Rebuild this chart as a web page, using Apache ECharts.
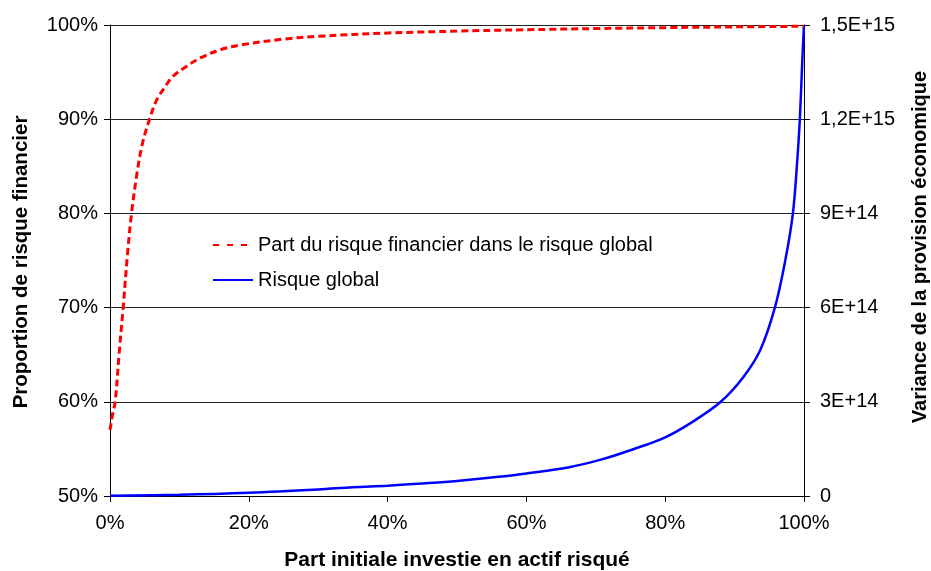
<!DOCTYPE html>
<html>
<head>
<meta charset="utf-8">
<script src="https://cdn.jsdelivr.net/npm/echarts@6/dist/echarts.min.js"></script>
<style>
html,body{margin:0;padding:0;background:#fff;}
#chart{width:931px;height:571px;}
</style>
</head>
<body>
<div id="chart"></div>
<script>
// X positions (part investie en actif risqué, %) and values
var redX = [0, 0.4, 0.75, 1.3, 1.9, 2.5, 3.1, 3.9, 4.7, 5.7, 6.7, 8, 9, 11, 13, 16, 19, 25, 30, 40, 50, 60, 70, 80, 90, 100];
var redY = [57.0, 58.8, 60.0, 65.0, 70.0, 75.5, 80.0, 84.3, 87.5, 90.0, 92.0, 93.5, 94.5, 95.6, 96.5, 97.4, 97.9, 98.5, 98.8, 99.15, 99.35, 99.5, 99.62, 99.72, 99.8, 99.87];

var blueX = [0, 10, 20, 30, 35, 40, 45, 50, 56, 60, 66, 70.6, 75.4, 80, 84, 88, 91.3, 93.7, 95.8, 97.3, 98.4, 99.0, 99.4, 99.8, 100];
var blueY = [1e12, 4e12, 1.05e13, 2.1e13, 2.8e13, 3.3e13, 4.0e13, 4.8e13, 6.1e13, 7.2e13, 9.1e13, 1.15e14, 1.49e14, 1.87e14, 2.37e14, 3.0e14, 3.8e14, 4.65e14, 6.0e14, 7.5e14, 9.0e14, 1.06e15, 1.2e15, 1.41e15, 1.5e15];

var rightTickValues = [0, 3e14, 6e14, 9e14, 1.2e15, 1.5e15];
var rightTickLabels = ['0', '3E+14', '6E+14', '9E+14', '1,2E+15', '1,5E+15'];

var seriesNames = ['Part du risque financier dans le risque global', 'Risque global'];
var xTitle = 'Part initiale investie en actif risqué';
var leftTitle = 'Proportion de risque financier';
var rightTitle = 'Variance de la provision économique';

function pairs(xs, ys) { return xs.map(function (x, i) { return [x, ys[i]]; }); }

var FONT = 'Liberation Sans, Arial, sans-serif';
var chart = echarts.init(document.getElementById('chart'), null, {renderer: 'canvas'});
chart.setOption({
  animation: false,
  backgroundColor: '#ffffff',
  textStyle: {fontFamily: FONT},
  grid: {left: 110, right: 127, top: 25, bottom: 75, containLabel: false, outerBoundsMode: 'none'},
  legend: {
    orient: 'vertical',
    left: 207,
    top: 230,
    itemWidth: 40,
    itemHeight: 14,
    itemGap: 15,
    itemStyle: {opacity: 0},
    textStyle: {fontFamily: FONT, fontSize: 20, color: '#000'},
    data: [
      {name: seriesNames[0], lineStyle: {type: [6, 8]}},
      {name: seriesNames[1]}
    ]
  },
  graphic: [
    {type: 'text', x: 457, y: 560, silent: true,
     style: {text: xTitle, font: 'bold 21px Liberation Sans, Arial, sans-serif', fill: '#000', align: 'center', verticalAlign: 'middle'}},
    {type: 'text', x: 21, y: 262, rotation: Math.PI / 2, silent: true,
     style: {text: leftTitle, font: 'bold 20.5px Liberation Sans, Arial, sans-serif', fill: '#000', align: 'center', verticalAlign: 'middle'}},
    {type: 'text', x: 920, y: 247, rotation: Math.PI / 2, silent: true,
     style: {text: rightTitle, font: 'bold 20px Liberation Sans, Arial, sans-serif', fill: '#000', align: 'center', verticalAlign: 'middle'}}
  ],
  xAxis: {
    type: 'value',
    min: 0, max: 100, interval: 20,
    axisLine: {show: true, onZero: false, lineStyle: {color: '#000', width: 1}},
    axisTick: {show: true, length: 6, lineStyle: {color: '#000'}},
    axisLabel: {fontFamily: FONT, fontSize: 20, color: '#000', margin: 17, formatter: function (v) { return v + '%'; }},
    splitLine: {show: false}
  },
  yAxis: [{
    type: 'value',
    min: 50, max: 100, interval: 10,
    axisLine: {show: true, lineStyle: {color: '#000', width: 1}},
    axisTick: {show: true, length: 6, lineStyle: {color: '#000'}},
    axisLabel: {fontFamily: FONT, fontSize: 20, color: '#000', margin: 12, formatter: function (v) { return v + '%'; }},
    splitLine: {show: true, lineStyle: {color: '#222', width: 1}}
  }, {
    type: 'value',
    min: 0, max: 1.5e15, interval: 3e14,
    axisLine: {show: true, lineStyle: {color: '#000', width: 1}},
    axisTick: {show: true, length: 6, lineStyle: {color: '#000'}},
    axisLabel: {fontFamily: FONT, fontSize: 20, color: '#000', margin: 16, formatter: function (v) {
      for (var i = 0; i < rightTickValues.length; i++) { if (Math.abs(rightTickValues[i] - v) < 1e9) return rightTickLabels[i]; }
      return '';
    }},
    splitLine: {show: false}
  }],
  series: [{
    name: seriesNames[0],
    type: 'line',
    yAxisIndex: 0,
    data: pairs(redX, redY),
    symbol: 'none',
    smooth: 0.35,
    lineStyle: {color: '#ff0000', width: 3, type: [7, 4]},
    itemStyle: {color: '#ff0000'},
    z: 3
  }, {
    name: seriesNames[1],
    type: 'line',
    yAxisIndex: 1,
    data: pairs(blueX, blueY),
    symbol: 'none',
    smooth: 0.35,
    lineStyle: {color: '#0000ff', width: 2.5},
    itemStyle: {color: '#0000ff'},
    z: 2
  }]
});
</script>
</body>
</html>
